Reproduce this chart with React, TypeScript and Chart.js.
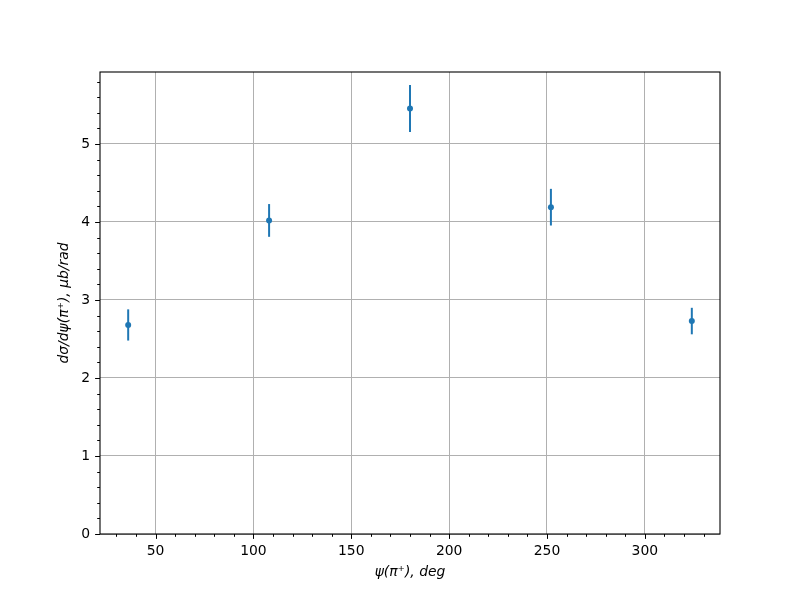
import React, { useEffect, useRef } from "react";
import { Chart, registerables } from "chart.js";

Chart.register(...registerables);

// ---- data ----
const psiDeg = [36, 108, 180, 252, 324];
const dSigma = [2.68, 4.02, 5.455, 4.19, 2.73];
const dSigmaErr = [0.2, 0.21, 0.3, 0.235, 0.17];

const xTickStep = 50;
const xMinorStep = 10;
const yTickStep = 1;
const yMinorStep = 0.2;
const xRange = [21.6, 338.4];
const yRange = [0, 5.923];

const xTitle = "ψ(π⁺), deg";
const yTitle = "dσ/dψ(π⁺), μb/rad";

const FONT = "DejaVu Sans";
const FS = 13.9;
const BLUE = "#1f77b4";

const decorPlugin = {
  id: "decor",
  beforeDatasetsDraw(chart: any) {
    const ctx = chart.ctx;
    const xs = chart.scales.x;
    const ys = chart.scales.y;
    ctx.save();
    ctx.strokeStyle = BLUE;
    ctx.lineWidth = 2;
    psiDeg.forEach((x, i) => {
      const px = xs.getPixelForValue(x);
      ctx.beginPath();
      ctx.moveTo(px, ys.getPixelForValue(dSigma[i] - dSigmaErr[i]));
      ctx.lineTo(px, ys.getPixelForValue(dSigma[i] + dSigmaErr[i]));
      ctx.stroke();
    });
    ctx.restore();
  },
  afterDraw(chart: any) {
    const ctx = chart.ctx;
    const { left, right, top, bottom } = chart.chartArea;
    const xs = chart.scales.x;
    const ys = chart.scales.y;
    ctx.save();
    // frame
    ctx.strokeStyle = "#000";
    ctx.lineWidth = 1.1;
    ctx.strokeRect(left, top, right - left, bottom - top);
    // ticks
    ctx.lineWidth = 1;
    const eps = 1e-9;
    const xStart = Math.ceil(xRange[0] / xMinorStep) * xMinorStep;
    for (let v = xStart; v <= xRange[1] + eps; v += xMinorStep) {
      const major = Math.abs(v / xTickStep - Math.round(v / xTickStep)) < 1e-6;
      const len = major ? 4.9 : 2.8;
      const px = Math.round(xs.getPixelForValue(v)) + 0.5;
      ctx.beginPath();
      ctx.moveTo(px, bottom);
      ctx.lineTo(px, bottom + len);
      ctx.stroke();
    }
    const yStart = Math.ceil(yRange[0] / yMinorStep - eps) * yMinorStep;
    for (let v = yStart; v <= yRange[1] + eps; v += yMinorStep) {
      const major = Math.abs(v / yTickStep - Math.round(v / yTickStep)) < 1e-6;
      const len = major ? 4.9 : 2.8;
      const py = Math.round(ys.getPixelForValue(v)) + 0.5;
      ctx.beginPath();
      ctx.moveTo(left, py);
      ctx.lineTo(left - len, py);
      ctx.stroke();
    }
    // axis titles
    ctx.fillStyle = "#000";
    ctx.font = `italic ${FS}px "${FONT}"`;
    ctx.textAlign = "center";
    ctx.textBaseline = "middle";
    ctx.fillText(xTitle, (left + right) / 2, 572);
    ctx.translate(64, (top + bottom) / 2);
    ctx.rotate(-Math.PI / 2);
    ctx.fillText(yTitle, 0, 0);
    ctx.restore();
  },
};

export default function App() {
  const ref = useRef<HTMLCanvasElement | null>(null);
  useEffect(() => {
    if (!ref.current) return;
    const chart = new Chart(ref.current, {
      type: "scatter",
      data: {
        datasets: [
          {
            data: psiDeg.map((x, i) => ({ x, y: dSigma[i] })),
            backgroundColor: BLUE,
            borderColor: BLUE,
            pointRadius: 3,
            pointBorderWidth: 0,
          },
        ],
      },
      options: {
        animation: false,
        responsive: false,
        devicePixelRatio: 1,
        layout: { padding: { left: 0, top: 72, right: 80, bottom: 0 } },
        plugins: { legend: { display: false }, tooltip: { enabled: false } },
        scales: {
          x: {
            type: "linear",
            min: xRange[0],
            max: xRange[1],
            afterFit: (s: any) => {
              s.height = 66;
            },
            border: { display: false },
            grid: { color: "#b0b0b0", lineWidth: 1, drawTicks: false },
            ticks: {
              stepSize: xTickStep,
              includeBounds: false,
              color: "#000",
              padding: 9,
              font: { family: FONT, size: FS },
              maxRotation: 0,
            },
          },
          y: {
            type: "linear",
            min: yRange[0],
            max: yRange[1],
            afterFit: (s: any) => {
              s.width = 100;
            },
            border: { display: false },
            grid: { color: "#b0b0b0", lineWidth: 1, drawTicks: false },
            ticks: {
              stepSize: yTickStep,
              includeBounds: false,
              color: "#000",
              padding: 10,
              font: { family: FONT, size: FS },
            },
          },
        },
      },
      plugins: [decorPlugin],
    });
    return () => chart.destroy();
  }, []);
  return (
    <div style={{ position: "absolute", left: 0, top: 0, width: 800, height: 600, background: "#fff" }}>
      <canvas ref={ref} width={800} height={600} />
    </div>
  );
}
